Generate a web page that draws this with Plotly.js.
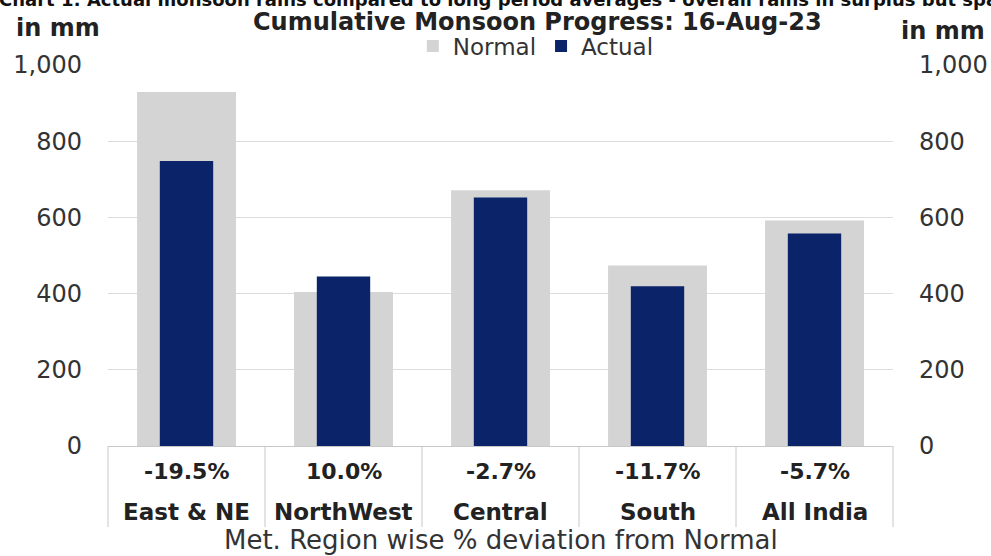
<!DOCTYPE html>
<html><head><meta charset="utf-8">
<script src="https://cdn.plot.ly/plotly-3.0.1.min.js"></script>
<style>html,body{margin:0;padding:0;background:#fff}#chart{width:991px;height:556px}</style>
</head><body><div id="chart"></div>
<script>
const regions = ["East & NE", "NorthWest", "Central", "South", "All India"];
const deviations = ["-19.5%", "10.0%", "-2.7%", "-11.7%", "-5.7%"];
const normalMm = [929, 404, 671, 474, 592];
const actualMm = [748, 445, 652, 419, 558];
const yTicks = [0, 200, 400, 600, 800, 1000];
const yTickText = ["0", "200", "400", "600", "800", "1,000"];

const FD = "DejaVu Sans, Verdana, sans-serif";
const idx = regions.map((_, i) => i);

const traces = [
  {type: "bar", name: "Normal", x: idx, y: normalMm, width: 0.63,
   marker: {color: "#d4d4d4"}, hoverinfo: "y"},
  {type: "bar", name: "Actual", x: idx, y: actualMm, width: 0.34,
   marker: {color: "#0b2368"}, hoverinfo: "y"},
  {type: "scatter", x: idx, y: normalMm, yaxis: "y2", mode: "none",
   showlegend: false, hoverinfo: "skip"}
];

const shapes = [];
for (let i = 0; i <= regions.length; i++) {
  shapes.push({type: "line", xref: "paper", yref: "paper",
    x0: i / regions.length, x1: i / regions.length, y0: 0, y1: -0.213,
    line: {color: "#c8c8c8", width: 1}});
}

const annotations = [];
regions.forEach((r, i) => {
  annotations.push({xref: "x", yref: "paper", x: i, y: -0.068, text: "<b>" + deviations[i] + "</b>",
    showarrow: false, font: {family: FD, size: 22, color: "#222"}, yanchor: "middle"});
  annotations.push({xref: "x", yref: "paper", x: i, y: -0.172, text: "<b>" + r + "</b>",
    showarrow: false, font: {family: FD, size: 23, color: "#222"}, yanchor: "middle"});
});
annotations.push({xref: "paper", yref: "paper", x: 0.5, y: -0.248, yanchor: "middle",
  text: "Met. Region wise % deviation from Normal", showarrow: false,
  font: {family: FD, size: 26, color: "#333"}});
annotations.push({xref: "paper", yref: "paper", x: -0.12, xanchor: "left", y: 1.097, yanchor: "middle",
  text: "<b>in mm</b>", showarrow: false, font: {family: FD, size: 24, color: "#222"}});
annotations.push({xref: "paper", yref: "paper", x: 1.12, xanchor: "right", y: 1.089, yanchor: "middle",
  text: "<b>in mm</b>", showarrow: false, font: {family: FD, size: 24, color: "#222"}});
annotations.push({xref: "paper", yref: "paper", x: 0.547, y: 1.113, yanchor: "middle",
  text: "<b>Cumulative Monsoon Progress: 16-Aug-23</b>", showarrow: false,
  font: {family: FD, size: 24, color: "#222"}});
annotations.push({xref: "paper", yref: "paper", x: -0.142, xanchor: "left", y: 1.172, yanchor: "middle",
  text: "<b>Chart 1: Actual monsoon rains compared to long period averages - overall rains in surplus but spatially uneven</b>",
  showarrow: false, font: {family: FD, size: 18, color: "#111"}});

const layout = {
  width: 991, height: 556,
  margin: {l: 108, r: 98, t: 65, b: 110},
  paper_bgcolor: "#fff", plot_bgcolor: "#fff",
  barmode: "overlay",
  showlegend: true,
  legend: {orientation: "h", x: 0.545, xanchor: "center", y: 1.05, yanchor: "middle",
    font: {family: FD, size: 23, color: "#333"}, itemwidth: 30, tracegroupgap: 0},
  xaxis: {range: [-0.5, regions.length - 0.5], showticklabels: false, ticks: "",
    showgrid: false, zeroline: false, showline: true, linecolor: "#c8c8c8", linewidth: 1, fixedrange: true},
  yaxis: {range: [0, 1000], tickvals: yTicks, ticktext: yTickText, showgrid: true, gridcolor: "#dcdcdc",
    zeroline: false, tickfont: {family: FD, size: 24, color: "#333"}, ticks: "", ticklabelstandoff: 25,
    fixedrange: true},
  yaxis2: {range: [0, 1000], tickvals: yTicks, ticktext: yTickText, overlaying: "y", side: "right",
    showgrid: false, zeroline: false, tickfont: {family: FD, size: 24, color: "#333"}, ticks: "",
    ticklabelstandoff: 25, fixedrange: true},
  shapes: shapes,
  annotations: annotations
};

Plotly.newPlot("chart", traces, layout, {displayModeBar: false, staticPlot: true});
</script></body></html>
